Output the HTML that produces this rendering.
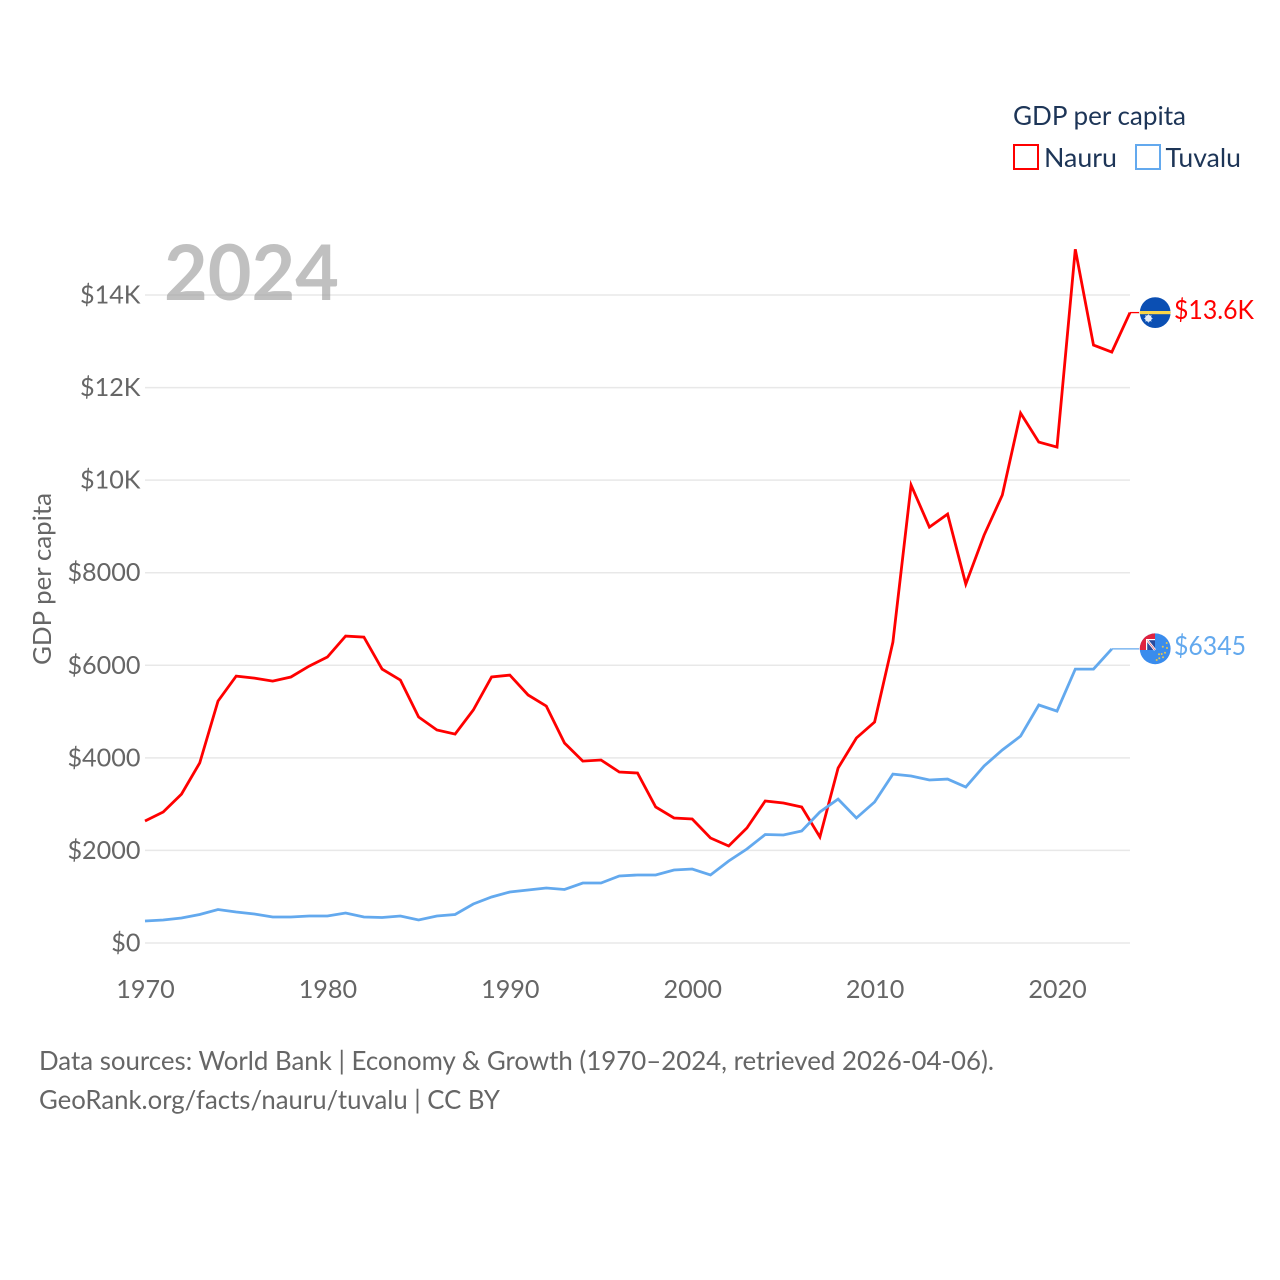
<!DOCTYPE html>
<html lang="en">
<head>
<meta charset="utf-8">
<title>GDP per capita: Nauru and Tuvalu</title>
<style>
html,body{margin:0;padding:0;background:#fff;}
body{width:1280px;height:1280px;overflow:hidden;}
svg{display:block;}
text{font-family:"Lato","Carlito","Liberation Sans",sans-serif;}
</style>
</head>
<body>
<svg id="chart" xmlns="http://www.w3.org/2000/svg" width="1280" height="1280" viewBox="0 0 1280 1280">
  <rect width="1280" height="1280" fill="#fff"/>
  <g id="grid"></g>
  <g id="yticks"></g>
  <g id="xticks"></g>
  <text transform="translate(51,579) rotate(-90)" text-anchor="middle" font-size="25.5" fill="#666" textLength="172" lengthAdjust="spacingAndGlyphs">GDP per capita</text>
  <text x="164" y="300" font-size="77" font-weight="700" fill="#999" fill-opacity="0.62" textLength="175" lengthAdjust="spacingAndGlyphs">2024</text>
  <g id="series"></g>

  <g>
    <text x="1013" y="125" font-size="26" fill="#1d3557" textLength="173" lengthAdjust="spacingAndGlyphs">GDP per capita</text>
    <g>
      <rect x="1014" y="145" width="24" height="24" fill="#fff" stroke="#ff0000" stroke-width="2"/>
      <text x="1044" y="167" font-size="26" fill="#1d3557" textLength="73" lengthAdjust="spacingAndGlyphs">Nauru</text>
    </g>
    <g>
      <rect x="1136" y="145" width="24" height="24" fill="#fff" stroke="#63a9ee" stroke-width="2"/>
      <text x="1165.5" y="167" font-size="26" fill="#1d3557" textLength="75.5" lengthAdjust="spacingAndGlyphs">Tuvalu</text>
    </g>
  </g>

  <defs>
    <clipPath id="flag-clip-nauru"><circle cx="1155.2" cy="312.6" r="15.4"/></clipPath>
    <clipPath id="flag-clip-tuvalu"><circle cx="1155.2" cy="648.8" r="15.4"/></clipPath>
  </defs>
  <g clip-path="url(#flag-clip-nauru)">
    <rect x="1139" y="296" width="33" height="33" fill="#0b4fb3"/>
    <rect x="1139" y="311" width="33" height="3.2" fill="#f9d548"/>
    <circle cx="1148.4" cy="318.4" r="3.4" fill="#e3ecf8"/>
    <path d="M1148.4 314.2V322.6M1144.2 318.4H1152.6M1145.4 315.4L1151.4 321.4M1151.4 315.4L1145.4 321.4" stroke="#e3ecf8" stroke-width="0.7"/>
  </g>
  <g clip-path="url(#flag-clip-tuvalu)">
    <rect x="1139" y="633" width="33" height="33" fill="#3a8ced"/>
    <rect x="1139" y="633" width="16" height="17" fill="#e0223f"/>
    <rect x="1147" y="640" width="8" height="10" fill="#2a4a9c"/>
    <path d="M1147 640 L1155 650" stroke="#fff" stroke-width="2.4"/>
    <path d="M1147 640 L1155 650" stroke="#e0223f" stroke-width="0.6"/>
    <rect x="1146" y="639" width="1.2" height="11" fill="#fff"/>
    <rect x="1146" y="639" width="9" height="1.2" fill="#fff"/>
    <g fill="#e8c64a">
      <circle cx="1166.7" cy="643" r="1"/><circle cx="1162.8" cy="646.7" r="1"/><circle cx="1167" cy="648" r="1"/>
      <circle cx="1161.7" cy="654" r="1"/><circle cx="1165" cy="652.7" r="1"/><circle cx="1159" cy="654.3" r="1"/>
      <circle cx="1163" cy="657.3" r="1"/><circle cx="1156.7" cy="660" r="1"/><circle cx="1159.3" cy="658.3" r="1"/>
    </g>
  </g>
  <text x="1174" y="319" font-size="26" fill="#ff0000" textLength="80" lengthAdjust="spacingAndGlyphs">$13.6K</text>
  <text x="1174" y="655" font-size="26" fill="#63a9ee" textLength="72" lengthAdjust="spacingAndGlyphs">$6345</text>

  <text x="39" y="1070" font-size="26" fill="#666" textLength="955" lengthAdjust="spacingAndGlyphs">Data sources: World Bank | Economy &amp; Growth (1970–2024, retrieved 2026-04-06).</text>
  <a>
    <text x="39" y="1109" font-size="26" fill="#666" textLength="461" lengthAdjust="spacingAndGlyphs">GeoRank.org/facts/nauru/tuvalu | CC BY</text>
  </a>
</svg>
<script>
const startYear = 1970;
const nauruValues = [2635,2830,3218,3888,5227,5767,5724,5659,5746,5983,6178,6631,6610,5918,5681,4882,4601,4514,5033,5746,5789,5357,5119,4320,3931,3953,3694,3672,2938,2700,2678,2268,2095,2484,3067,3024,2938,2290,3780,4428,4774,6502,9893,8986,9266,7754,8813,9677,11448,10822,10714,14990,12917,12766,13620];
const tuvaluValues = [475,497,540,616,724,670,626,562,562,583,583,648,562,551,583,497,583,616,842,994,1102,1145,1188,1156,1296,1296,1447,1469,1469,1577,1598,1469,1771,2030,2344,2333,2419,2830,3110,2700,3046,3650,3607,3521,3542,3370,3823,4169,4471,5141,5011,5918,5918,6355];
const yTickValues = [0,2000,4000,6000,8000,10000,12000,14000];
const yTickLabels = ["$0","$2000","$4000","$6000","$8000","$10K","$12K","$14K"];
const xTickYears = [1970,1980,1990,2000,2010,2020];

const NS = "http://www.w3.org/2000/svg";
function xScale(year){ return 145 + (year - 1970) * (1130 - 145) / 54; }
function yScale(v){ return 943 - v * (943 - 295) / 14000; }
function make(tag, attrs, parent){
  const el = document.createElementNS(NS, tag);
  for (const k in attrs) el.setAttribute(k, attrs[k]);
  parent.appendChild(el);
  return el;
}
const gridG = document.getElementById("grid");
const yG = document.getElementById("yticks");
const xG = document.getElementById("xticks");
const seriesG = document.getElementById("series");

yTickValues.forEach(function(v, i){
  const line = make("line", {x1:145, x2:1130, y1:yScale(v), y2:yScale(v), stroke:"#e8e8e8", "stroke-width":1.5}, gridG);
  
  
  const t = make("text", {x:140.5, y:yScale(v)+8.5, "text-anchor":"end", "font-size":25.2, fill:"#666"}, yG);
  
  
  t.textContent = yTickLabels[i];
});
xTickYears.forEach(function(y){
  const t = make("text", {x:xScale(y)+0.5, y:998, "text-anchor":"middle", "font-size":25.2, fill:"#666"}, xG);
  
  
  t.textContent = y;
});
function drawSeries(values, color, name){
  const pts = values.map(function(v, i){ return xScale(startYear + i).toFixed(1) + "," + yScale(v).toFixed(1); });
  const path = make("polyline", {points:pts.join(" "), fill:"none", stroke:color, "stroke-width":2.8, "stroke-linejoin":"miter"}, seriesG);
  
  
  const lastV = values[values.length - 1];
  const conn = make("line", {x1:xScale(startYear + values.length - 1), x2:1139, y1:yScale(lastV), y2:yScale(lastV), stroke:color, "stroke-width":1.3}, seriesG);
  
  
}
drawSeries(nauruValues, "#ff0000", "nauru");
drawSeries(tuvaluValues, "#63a9ee", "tuvalu");
</script>
</body>
</html>
